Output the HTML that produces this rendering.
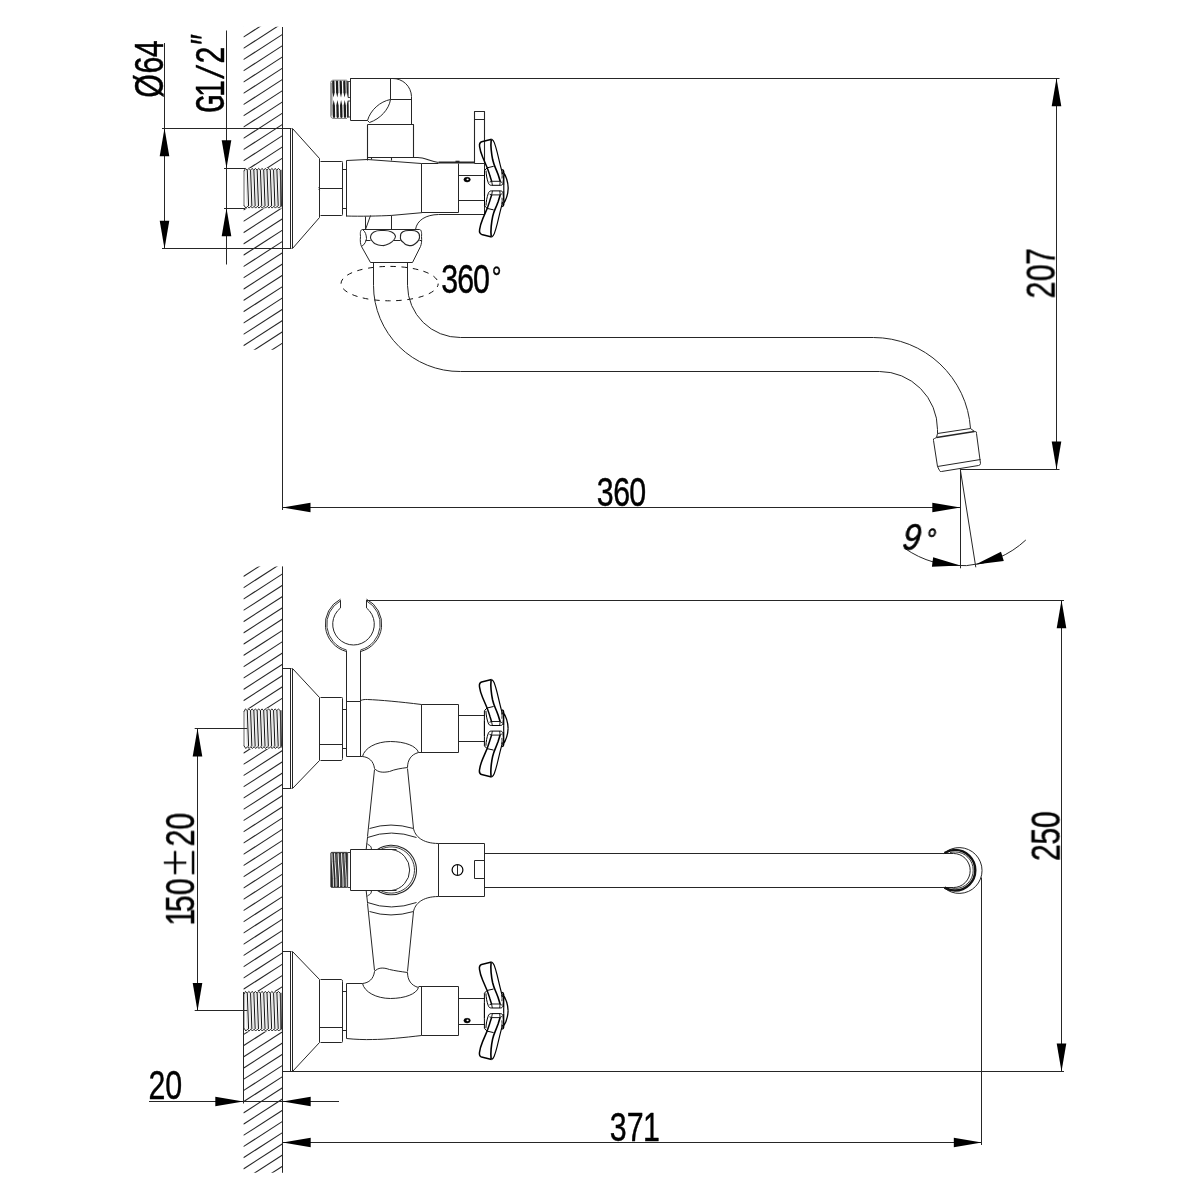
<!DOCTYPE html>
<html lang="en">
<head>
<meta charset="utf-8">
<title>Wall-mounted bath mixer – dimensional drawing</title>
<style>
html,body{margin:0;padding:0;background:#fff;}
body{width:1200px;height:1200px;overflow:hidden;font-family:"Liberation Sans",Arial,sans-serif;}
svg{display:block;}
</style>
</head>
<body>
<svg width="1200" height="1200" viewBox="0 0 1200 1200" stroke-linecap="butt" stroke-linejoin="round">
<rect width="1200" height="1200" fill="#fff"/>
<defs><g id="handle" fill="none" stroke="#000" stroke-width="1.15">
<g id="lobe"><path d="M7.3,-48.8 L-2.7,-46.3 C-4.6,-45.6 -5.2,-44 -4.8,-41.5 C-4.2,-37 -2.6,-33 -1.7,-30.8 L2.8,-20.3 C4,-17 5,-14.2 5.6,-12 L7.3,-6.6" stroke-width="1.5"/><path d="M7.3,-48.8 C8.6,-48 9.4,-46.8 9.9,-45.5 C11.2,-42 12,-39 12.8,-35.8 L15.8,-23.3 L18.2,-14"/><path d="M6.8,-48.3 C6.4,-45 6.5,-41.5 6.8,-38.3 C7.1,-35 7.6,-31.5 8.3,-28.3 C9,-25.5 9.8,-23 10.8,-20.8 C11.9,-18.3 13,-15.5 13.8,-13.3 L15.8,-6.8" stroke-width="1.6"/><path d="M2.8,-20.3 L9.3,-21.8" stroke-width="1"/><path d="M0.1,-8 L0.1,-17.6 L2.6,-20.2 M1.6,-17.5 C1.8,-13 2.6,-9 3.8,-5.6 C4.4,-3.6 5.4,-2.8 7,-2.8 L16,-2.8 C17.6,-2.8 18.4,-3.6 18.6,-5 L19.3,-12" stroke-width="1"/><path d="M7.3,-6.8 L15.8,-6.8 M5.2,-6 L7.3,-6.8 L8,-2.8 M15.8,-6.8 L17.6,-5.6 M15.8,-6.8 L15.4,-2.8" stroke-width="0.9"/><path d="M17.6,-18.4 C18.8,-18.2 19.4,-17.6 19.4,-16.4 L19.4,-3 M18.4,-17 C20.8,-13.5 23.6,-7 23.8,0" stroke-width="1.3"/><path d="M17.4,-15.8 C17.9,-13.5 17.9,-11.5 17.6,-9.6" stroke-width="0.9"/></g>
<use href="#lobe" transform="scale(1,-1)"/>
<path d="M0.1,-8 V8 M19.4,-3 V3"/>
</g></defs>
<clipPath id="h1"><rect x="243.4" y="26.8" width="39.099999999999994" height="141.39999999999998"/></clipPath>
<g clip-path="url(#h1)" stroke="#262626" stroke-width="1.08">
<line x1="243.40" y1="14.62" x2="282.50" y2="-10.60"/>
<line x1="243.40" y1="25.87" x2="282.50" y2="0.65"/>
<line x1="243.40" y1="37.12" x2="282.50" y2="11.90"/>
<line x1="243.40" y1="48.37" x2="282.50" y2="23.15"/>
<line x1="243.40" y1="59.62" x2="282.50" y2="34.40"/>
<line x1="243.40" y1="70.87" x2="282.50" y2="45.65"/>
<line x1="243.40" y1="82.12" x2="282.50" y2="56.90"/>
<line x1="243.40" y1="93.37" x2="282.50" y2="68.15"/>
<line x1="243.40" y1="104.62" x2="282.50" y2="79.40"/>
<line x1="243.40" y1="115.87" x2="282.50" y2="90.65"/>
<line x1="243.40" y1="127.12" x2="282.50" y2="101.90"/>
<line x1="243.40" y1="138.37" x2="282.50" y2="113.15"/>
<line x1="243.40" y1="149.62" x2="282.50" y2="124.40"/>
<line x1="243.40" y1="160.87" x2="282.50" y2="135.65"/>
<line x1="243.40" y1="172.12" x2="282.50" y2="146.90"/>
<line x1="243.40" y1="183.37" x2="282.50" y2="158.15"/>
<line x1="243.40" y1="194.62" x2="282.50" y2="169.40"/>
</g>
<clipPath id="h1b"><rect x="243.4" y="208.3" width="39.099999999999994" height="141.5"/></clipPath>
<g clip-path="url(#h1b)" stroke="#262626" stroke-width="1.08">
<line x1="243.40" y1="187.52" x2="282.50" y2="162.30"/>
<line x1="243.40" y1="198.82" x2="282.50" y2="173.60"/>
<line x1="243.40" y1="210.12" x2="282.50" y2="184.90"/>
<line x1="243.40" y1="221.42" x2="282.50" y2="196.20"/>
<line x1="243.40" y1="232.72" x2="282.50" y2="207.50"/>
<line x1="243.40" y1="244.02" x2="282.50" y2="218.80"/>
<line x1="243.40" y1="255.32" x2="282.50" y2="230.10"/>
<line x1="243.40" y1="266.62" x2="282.50" y2="241.40"/>
<line x1="243.40" y1="277.92" x2="282.50" y2="252.70"/>
<line x1="243.40" y1="289.22" x2="282.50" y2="264.00"/>
<line x1="243.40" y1="300.52" x2="282.50" y2="275.30"/>
<line x1="243.40" y1="311.82" x2="282.50" y2="286.60"/>
<line x1="243.40" y1="323.12" x2="282.50" y2="297.90"/>
<line x1="243.40" y1="334.42" x2="282.50" y2="309.20"/>
<line x1="243.40" y1="345.72" x2="282.50" y2="320.50"/>
<line x1="243.40" y1="357.02" x2="282.50" y2="331.80"/>
<line x1="243.40" y1="368.32" x2="282.50" y2="343.10"/>
<line x1="243.40" y1="379.62" x2="282.50" y2="354.40"/>
</g>
<line x1="282.50" y1="27.00" x2="282.50" y2="510.00" stroke="#262626" stroke-width="1.0" />
<rect x="243.40" y="168.20" width="38.60" height="40.10" fill="#fff" stroke="none"/>
<g fill="none" stroke-linejoin="round">
<path d="M245.81,169.70 L247.11,206.80 M249.10,169.70 L250.40,206.80 M252.39,169.70 L253.69,206.80 M255.68,169.70 L256.98,206.80 M258.97,169.70 L260.27,206.80 M262.26,169.70 L263.56,206.80 M265.56,169.70 L266.86,206.80 M268.85,169.70 L270.15,206.80 M272.14,169.70 L273.44,206.80 M275.43,169.70 L276.73,206.80 M278.72,169.70 L280.02,206.80" stroke="#c4c4c4" stroke-width="0.5"/>
<path d="M247.29,170.20 L248.59,206.10 M250.58,170.20 L251.88,206.10 M253.87,170.20 L255.17,206.10 M257.16,170.20 L258.46,206.10 M260.45,170.20 L261.75,206.10 M263.75,170.20 L265.05,206.10 M267.04,170.20 L268.34,206.10 M270.33,170.20 L271.63,206.10 M273.62,170.20 L274.92,206.10 M276.91,170.20 L278.21,206.10 M280.20,170.20 L281.50,206.10" stroke="#111" stroke-width="1.0"/>
<polyline points="244.00,171.20 245.48,168.40 247.29,170.20 248.77,168.40 250.58,170.20 252.06,168.40 253.87,170.20 255.35,168.40 257.16,170.20 258.64,168.40 260.45,170.20 261.94,168.40 263.75,170.20 265.23,168.40 267.04,170.20 268.52,168.40 270.33,170.20 271.81,168.40 273.62,170.20 275.10,168.40 276.91,170.20 278.39,168.40 280.20,170.20" stroke="#111" stroke-width="0.9"/>
<polyline points="244.00,205.30 245.81,208.10 247.59,206.30 249.10,208.10 250.88,206.30 252.39,208.10 254.17,206.30 255.68,208.10 257.46,206.30 258.97,208.10 260.75,206.30 262.26,208.10 264.05,206.30 265.56,208.10 267.34,206.30 268.85,208.10 270.63,206.30 272.14,208.10 273.92,206.30 275.43,208.10 277.21,206.30 278.72,208.10 280.50,206.30" stroke="#111" stroke-width="0.9"/>
<path d="M244.00,170.70 V205.80" stroke="#555" stroke-width="0.9"/>
<path d="M280.90,169.70 V207.30" stroke="#444" stroke-width="1.4"/>
</g>
<path d="M 282.5,128.5 H 291.5 M 282.5,248.5 H 291.5 M 290.5,128.5 V 248.5 M 292.5,128.5 V 248.5 M 292.5,128.5 L 319.5,158.5 V 217.5 L 292.5,248.5" stroke="#262626" stroke-width="1.0" fill="none" />
<path d="M 320.5,161.5 H 341.5 Q 342.5,161,342.5,162.5 V 214.5 Q 342.5,215.6,341.5,215.5 H 320.5 M 319.5,188.5 H 342.5" stroke="#262626" stroke-width="1.0" fill="none" />
<path d="M 319.5,186.5 q -1.2,0.9,0,1.8 q -1.2,0.9,0,1.8" stroke="#262626" stroke-width="0.9" fill="none" />
<path d="M 342.5,169.5 H 346.5 M 342.5,208.5 H 346.5" stroke="#262626" stroke-width="1" fill="none" />
<g stroke="none" fill="#1c1c1c">
<path d="M332.15,81.60 Q333.30,79.40 334.45,81.60 L334.70,92.2 L333.60,97.6 L332.40,92.2 Z"/>
<path d="M332.85,116.90 Q334.00,119.10 335.15,116.90 L334.90,105.6 L333.70,99.9 L332.60,105.6 Z"/>
<path d="M335.85,81.60 Q337.00,79.40 338.15,81.60 L338.40,92.2 L337.30,97.6 L336.10,92.2 Z"/>
<path d="M336.55,116.90 Q337.70,119.10 338.85,116.90 L338.60,105.6 L337.40,99.9 L336.30,105.6 Z"/>
<path d="M339.55,81.60 Q340.70,79.40 341.85,81.60 L342.10,92.2 L341.00,97.6 L339.80,92.2 Z"/>
<path d="M340.25,116.90 Q341.40,119.10 342.55,116.90 L342.30,105.6 L341.10,99.9 L340.00,105.6 Z"/>
<path d="M343.15,81.60 Q344.30,79.40 345.45,81.60 L345.70,92.2 L344.60,97.6 L343.40,92.2 Z"/>
<path d="M343.85,116.90 Q345.00,119.10 346.15,116.90 L345.90,105.6 L344.70,99.9 L343.60,105.6 Z"/>
<path d="M346.40,81.60 Q347.10,79.40 347.80,81.60 L348.05,92.2 L347.40,97.6 L346.65,92.2 Z"/>
<path d="M347.10,116.90 Q347.80,119.10 348.50,116.90 L348.25,105.6 L347.50,99.9 L346.85,105.6 Z"/>
</g>
<path d="M330.8,82.5 Q330.9,80.6 332.6,80.3 M330.8,82.5 V116 Q330.9,118 332.8,118.3 M331.9,83 V115.6" fill="none" stroke="#555" stroke-width="0.8"/>
<path d="M332.6,80.2 H346.8 M332.8,118.4 H347" fill="none" stroke="#444" stroke-width="0.7"/>
<path d="M348,81.5 H350.5 M348,97.5 H350.5 M348,101 H350.5 M348,117 H350.5 M348.2,81.5 V97.5 M348.2,101 V117" fill="none" stroke="#333" stroke-width="0.9"/>
<path d="M 350.5,78.5 V 120.5 H 367.5 L 369.5,122.5 M 350.5,78.5 H 392.5 A 18.6,18.6,0,0,1,411.5,96.5 V 124.5 M 390.5,78.5 V 99.5 H 411.5" stroke="#262626" stroke-width="1.0" fill="none" />
<path d="M 390.5,99.5 C 380,101.5,370.5,110,367.5,120.5 M 390.5,99.5 C 389,109.5,380,119,369.5,122.5" stroke="#262626" stroke-width="1.0" fill="none" />
<path d="M 367.5,124.5 H 413.5 V 157.5 M 367.5,124.5 V 160.5 M 367.5,157.5 H 417.5 C 425,157.4,430,161.7,438.5,162.5 M 371.5,157.5 V 159.5 M 391.5,157.5 V 160.5" stroke="#262626" stroke-width="1.1" fill="none" />
<path d="M 346.5,160.5 V 216.5 M 346.5,160.5 L 367.5,159.5 L 421.5,163.5 L 438.5,163.5 M 421.5,163.5 V 212.5 H 458.5 V 163.5 M 438.5,214.5 H 484.5 V 163.5" stroke="#262626" stroke-width="1.0" fill="none" />
<path d="M346.4,216 C360,216.5 380,216 391.7,215.4 L421.9,212.7" stroke="#262626" stroke-width="1.0" fill="none" />
<path d="M 438.5,162.5 H 474.5" stroke="#262626" stroke-width="1.9" fill="none" />
<path d="M 455.5,161.5 h 4" stroke="#262626" stroke-width="1.6" fill="none" />
<path d="M 458.5,175.5 H 484.5 M 458.5,200.5 H 484.5" stroke="#262626" stroke-width="1.1" fill="none" />
<path d="M 474.5,163.5 V 111.5 H 484.5 V 163.5 M 474.5,119.5 H 484.5 M 474.5,163.5 H 484.5" stroke="#262626" stroke-width="1.1" fill="none" />
<ellipse cx="467.1" cy="179.6" rx="3.2" ry="2.3" fill="#000" stroke="#000" stroke-width="0.6"/>
<ellipse cx="467.6" cy="179.4" rx="1.1" ry="0.8" fill="#fff"/>
<use href="#handle" x="484.4" y="188.1"/>
<path d="M 365.5,216.5 V 229.5 M 370.5,215.5 L 365.5,229.5 M 391.5,215.5 V 229.5 M 438.5,214.5 C 426,214.8,417,220,415.5,229.5" stroke="#262626" stroke-width="1.0" fill="none" />
<path d="M 362.5,229.5 H 419.5 C 421.2,229.6,421.9,232,421.5,236.5 C 421.9,241,421.5,244,420.5,246.5 L 412.5,262.5 H 370.5 L 361.5,246.5 C 360.4,244,360,241,360.5,236.5 C 360,232,360.6,229.6,362.5,229.5 Z" stroke="#262626" stroke-width="1.0" fill="none" />
<path d="M 362.5,229.5 C 365.5,231.5,366.3,235,366.5,238.5 C 366.1,241,365,244.5,361.5,246.5" stroke="#262626" stroke-width="1" fill="none" />
<path d="M 365.5,240.5 H 370.5 M 393.5,240.5 H 400.5 M 419.5,240.5 H 421.5" stroke="#262626" stroke-width="1" fill="none" />
<path d="M 370.5,237.5 C 370.6,232.5,375.5,230,382.5,230.5 C 390,230,395,232.8,395.5,236.5 C 395,239.5,392.5,241.7,389.5,243.5 C 386.5,245,384,245.9,382.5,245.5 C 379.5,245.9,377,244.8,374.5,243.5 C 372,241.2,370.6,239.5,370.5,237.5 Z" stroke="#262626" stroke-width="1.1" fill="none" />
<path d="M 400.5,236.5 C 400,232.5,404,230,410.5,230.5 C 416,230,419.8,232.5,419.5,236.5 C 419.8,239,418,241.5,415.5,243.5 C 413.6,245,411.8,245.9,410.5,245.5 C 407.5,245.9,405,244.6,403.5,242.5 C 401,241,400,239,400.5,236.5 Z" stroke="#262626" stroke-width="1.1" fill="none" />
<ellipse cx="389.6" cy="283.6" rx="48.6" ry="17.2" fill="none" stroke="#111" stroke-width="1" stroke-dasharray="5.5 5.6" stroke-dashoffset="2"/>
<path d="M 373.5,262.5 V 285.5 A 86.2,86.2,0,0,0,460.5,371.5 H 879.5 A 58,58,0,0,1,937.5,429.5 L 937.5,433.5" stroke="#262626" stroke-width="1.0" fill="none" />
<path d="M 407.5,262.5 V 285.5 A 52.5,52.5,0,0,0,460.5,337.5 H 873.5 A 97.5,97.5,0,0,1,970.5,428.5" stroke="#262626" stroke-width="1.0" fill="none" />
<path d="M 937.5,433.5 L 970.5,428.5" stroke="#262626" stroke-width="1" fill="none" />
<path d="M 936.5,437.5 L 974.5,431.5" stroke="#262626" stroke-width="1.7" fill="none" />
<path d="M 937.5,433.5 L 936.5,437.5 M 970.5,428.5 L 974.5,431.5" stroke="#262626" stroke-width="1" fill="none" />
<path d="M 936.5,437.5 L 934.5,438.5 Q 933,438.4,933.5,440.5 L 937.5,466.5 L 939.5,470.5 Q 939.9,471.9,941.5,471.5 L 978.5,465.5 Q 980.6,465,980.5,463.5 L 976.5,433.5 Q 976.5,431.2,975.5,431.5 L 974.5,431.5" stroke="#262626" stroke-width="1.0" fill="none" />
<path d="M 937.5,466.5 L 980.5,459.5" stroke="#262626" stroke-width="1" fill="none" />
<line x1="164.50" y1="43.00" x2="164.50" y2="248.75" stroke="#262626" stroke-width="1.0" />
<line x1="162.00" y1="128.50" x2="283.00" y2="128.50" stroke="#262626" stroke-width="1.0" />
<line x1="162.00" y1="248.50" x2="283.00" y2="248.50" stroke="#262626" stroke-width="1.0" />
<polygon points="164.50,128.25 169.30,156.25 159.70,156.25" fill="#000"/>
<polygon points="164.50,248.75 159.70,220.75 169.30,220.75" fill="#000"/>
<line x1="226.50" y1="30.50" x2="226.50" y2="264.50" stroke="#262626" stroke-width="1.0" />
<line x1="224.00" y1="168.50" x2="245.00" y2="168.50" stroke="#262626" stroke-width="1.0" />
<line x1="224.00" y1="208.50" x2="245.00" y2="208.50" stroke="#262626" stroke-width="1.0" />
<polygon points="226.50,168.30 221.70,140.30 231.30,140.30" fill="#000"/>
<polygon points="226.50,208.20 231.30,236.20 221.70,236.20" fill="#000"/>
<line x1="350.30" y1="78.50" x2="1059.50" y2="78.50" stroke="#262626" stroke-width="1.0" />
<line x1="1056.50" y1="78.20" x2="1056.50" y2="469.40" stroke="#262626" stroke-width="1.0" />
<polygon points="1056.50,78.20 1061.30,106.20 1051.70,106.20" fill="#000"/>
<polygon points="1056.50,469.40 1051.70,441.40 1061.30,441.40" fill="#000"/>
<line x1="960.30" y1="469.50" x2="1059.50" y2="469.50" stroke="#262626" stroke-width="1.0" />
<line x1="282.50" y1="507.50" x2="960.30" y2="507.50" stroke="#262626" stroke-width="1.0" />
<polygon points="282.50,507.50 310.50,502.70 310.50,512.30" fill="#000"/>
<polygon points="960.30,507.50 932.30,512.30 932.30,502.70" fill="#000"/>
<line x1="960.50" y1="469.40" x2="960.50" y2="568.30" stroke="#262626" stroke-width="1.0" />
<line x1="960.30" y1="469.40" x2="975.80" y2="567.30" stroke="#262626" stroke-width="1.0" />
<path d="M904.3,548 A96.4,96.4 0 0 0 1025.8,540" stroke="#262626" stroke-width="1.0" fill="none" />
<polygon points="960.30,565.60 931.92,566.80 933.14,557.28" fill="#000"/>
<polygon points="975.60,564.60 1001.00,551.87 1003.79,561.05" fill="#000"/>
<clipPath id="h2"><rect x="243.4" y="566.4" width="39.099999999999994" height="142.30000000000007"/></clipPath>
<g clip-path="url(#h2)" stroke="#262626" stroke-width="1.08">
<line x1="243.40" y1="553.96" x2="282.50" y2="528.74"/>
<line x1="243.40" y1="565.25" x2="282.50" y2="540.03"/>
<line x1="243.40" y1="576.54" x2="282.50" y2="551.32"/>
<line x1="243.40" y1="587.83" x2="282.50" y2="562.61"/>
<line x1="243.40" y1="599.12" x2="282.50" y2="573.90"/>
<line x1="243.40" y1="610.41" x2="282.50" y2="585.19"/>
<line x1="243.40" y1="621.70" x2="282.50" y2="596.48"/>
<line x1="243.40" y1="632.99" x2="282.50" y2="607.77"/>
<line x1="243.40" y1="644.28" x2="282.50" y2="619.06"/>
<line x1="243.40" y1="655.57" x2="282.50" y2="630.35"/>
<line x1="243.40" y1="666.86" x2="282.50" y2="641.64"/>
<line x1="243.40" y1="678.15" x2="282.50" y2="652.93"/>
<line x1="243.40" y1="689.44" x2="282.50" y2="664.22"/>
<line x1="243.40" y1="700.73" x2="282.50" y2="675.51"/>
<line x1="243.40" y1="712.02" x2="282.50" y2="686.80"/>
<line x1="243.40" y1="723.31" x2="282.50" y2="698.09"/>
<line x1="243.40" y1="734.60" x2="282.50" y2="709.38"/>
</g>
<clipPath id="h2b"><rect x="243.4" y="748.7" width="39.099999999999994" height="242.5"/></clipPath>
<g clip-path="url(#h2b)" stroke="#262626" stroke-width="1.08">
<line x1="243.40" y1="730.69" x2="282.50" y2="705.47"/>
<line x1="243.40" y1="741.93" x2="282.50" y2="716.72"/>
<line x1="243.40" y1="753.18" x2="282.50" y2="727.96"/>
<line x1="243.40" y1="764.42" x2="282.50" y2="739.21"/>
<line x1="243.40" y1="775.67" x2="282.50" y2="750.45"/>
<line x1="243.40" y1="786.91" x2="282.50" y2="761.70"/>
<line x1="243.40" y1="798.16" x2="282.50" y2="772.94"/>
<line x1="243.40" y1="809.40" x2="282.50" y2="784.19"/>
<line x1="243.40" y1="820.65" x2="282.50" y2="795.43"/>
<line x1="243.40" y1="831.89" x2="282.50" y2="806.68"/>
<line x1="243.40" y1="843.14" x2="282.50" y2="817.92"/>
<line x1="243.40" y1="854.38" x2="282.50" y2="829.17"/>
<line x1="243.40" y1="865.63" x2="282.50" y2="840.41"/>
<line x1="243.40" y1="876.87" x2="282.50" y2="851.66"/>
<line x1="243.40" y1="888.12" x2="282.50" y2="862.90"/>
<line x1="243.40" y1="899.36" x2="282.50" y2="874.15"/>
<line x1="243.40" y1="910.61" x2="282.50" y2="885.39"/>
<line x1="243.40" y1="921.85" x2="282.50" y2="896.64"/>
<line x1="243.40" y1="933.10" x2="282.50" y2="907.88"/>
<line x1="243.40" y1="944.34" x2="282.50" y2="919.13"/>
<line x1="243.40" y1="955.59" x2="282.50" y2="930.37"/>
<line x1="243.40" y1="966.83" x2="282.50" y2="941.62"/>
<line x1="243.40" y1="978.08" x2="282.50" y2="952.86"/>
<line x1="243.40" y1="989.32" x2="282.50" y2="964.11"/>
<line x1="243.40" y1="1000.57" x2="282.50" y2="975.35"/>
<line x1="243.40" y1="1011.81" x2="282.50" y2="986.60"/>
<line x1="243.40" y1="1023.06" x2="282.50" y2="997.84"/>
</g>
<clipPath id="h2c"><rect x="243.4" y="1031.2" width="39.099999999999994" height="141.5999999999999"/></clipPath>
<g clip-path="url(#h2c)" stroke="#262626" stroke-width="1.08">
<line x1="243.40" y1="1012.22" x2="282.50" y2="987.00"/>
<line x1="243.40" y1="1023.42" x2="282.50" y2="998.20"/>
<line x1="243.40" y1="1034.62" x2="282.50" y2="1009.40"/>
<line x1="243.40" y1="1045.82" x2="282.50" y2="1020.60"/>
<line x1="243.40" y1="1057.02" x2="282.50" y2="1031.80"/>
<line x1="243.40" y1="1068.22" x2="282.50" y2="1043.00"/>
<line x1="243.40" y1="1079.42" x2="282.50" y2="1054.20"/>
<line x1="243.40" y1="1090.62" x2="282.50" y2="1065.40"/>
<line x1="243.40" y1="1101.82" x2="282.50" y2="1076.60"/>
<line x1="243.40" y1="1113.02" x2="282.50" y2="1087.80"/>
<line x1="243.40" y1="1124.22" x2="282.50" y2="1099.00"/>
<line x1="243.40" y1="1135.42" x2="282.50" y2="1110.20"/>
<line x1="243.40" y1="1146.62" x2="282.50" y2="1121.40"/>
<line x1="243.40" y1="1157.82" x2="282.50" y2="1132.60"/>
<line x1="243.40" y1="1169.02" x2="282.50" y2="1143.80"/>
<line x1="243.40" y1="1180.22" x2="282.50" y2="1155.00"/>
<line x1="243.40" y1="1191.42" x2="282.50" y2="1166.20"/>
<line x1="243.40" y1="1202.62" x2="282.50" y2="1177.40"/>
</g>
<line x1="282.50" y1="566.40" x2="282.50" y2="1172.80" stroke="#262626" stroke-width="1.0" />
<rect x="243.40" y="708.70" width="38.60" height="40.00" fill="#fff" stroke="none"/>
<g fill="none" stroke-linejoin="round">
<path d="M245.81,710.20 L247.11,747.20 M249.10,710.20 L250.40,747.20 M252.39,710.20 L253.69,747.20 M255.68,710.20 L256.98,747.20 M258.97,710.20 L260.27,747.20 M262.26,710.20 L263.56,747.20 M265.56,710.20 L266.86,747.20 M268.85,710.20 L270.15,747.20 M272.14,710.20 L273.44,747.20 M275.43,710.20 L276.73,747.20 M278.72,710.20 L280.02,747.20" stroke="#c4c4c4" stroke-width="0.5"/>
<path d="M247.29,710.70 L248.59,746.50 M250.58,710.70 L251.88,746.50 M253.87,710.70 L255.17,746.50 M257.16,710.70 L258.46,746.50 M260.45,710.70 L261.75,746.50 M263.75,710.70 L265.05,746.50 M267.04,710.70 L268.34,746.50 M270.33,710.70 L271.63,746.50 M273.62,710.70 L274.92,746.50 M276.91,710.70 L278.21,746.50 M280.20,710.70 L281.50,746.50" stroke="#111" stroke-width="1.0"/>
<polyline points="244.00,711.70 245.48,708.90 247.29,710.70 248.77,708.90 250.58,710.70 252.06,708.90 253.87,710.70 255.35,708.90 257.16,710.70 258.64,708.90 260.45,710.70 261.94,708.90 263.75,710.70 265.23,708.90 267.04,710.70 268.52,708.90 270.33,710.70 271.81,708.90 273.62,710.70 275.10,708.90 276.91,710.70 278.39,708.90 280.20,710.70" stroke="#111" stroke-width="0.9"/>
<polyline points="244.00,745.70 245.81,748.50 247.59,746.70 249.10,748.50 250.88,746.70 252.39,748.50 254.17,746.70 255.68,748.50 257.46,746.70 258.97,748.50 260.75,746.70 262.26,748.50 264.05,746.70 265.56,748.50 267.34,746.70 268.85,748.50 270.63,746.70 272.14,748.50 273.92,746.70 275.43,748.50 277.21,746.70 278.72,748.50 280.50,746.70" stroke="#111" stroke-width="0.9"/>
<path d="M244.00,711.20 V746.20" stroke="#555" stroke-width="0.9"/>
<path d="M280.90,710.20 V747.70" stroke="#444" stroke-width="1.4"/>
</g>
<rect x="243.40" y="991.20" width="38.60" height="40.00" fill="#fff" stroke="none"/>
<g fill="none" stroke-linejoin="round">
<path d="M245.81,992.70 L247.11,1029.70 M249.10,992.70 L250.40,1029.70 M252.39,992.70 L253.69,1029.70 M255.68,992.70 L256.98,1029.70 M258.97,992.70 L260.27,1029.70 M262.26,992.70 L263.56,1029.70 M265.56,992.70 L266.86,1029.70 M268.85,992.70 L270.15,1029.70 M272.14,992.70 L273.44,1029.70 M275.43,992.70 L276.73,1029.70 M278.72,992.70 L280.02,1029.70" stroke="#c4c4c4" stroke-width="0.5"/>
<path d="M247.29,993.20 L248.59,1029.00 M250.58,993.20 L251.88,1029.00 M253.87,993.20 L255.17,1029.00 M257.16,993.20 L258.46,1029.00 M260.45,993.20 L261.75,1029.00 M263.75,993.20 L265.05,1029.00 M267.04,993.20 L268.34,1029.00 M270.33,993.20 L271.63,1029.00 M273.62,993.20 L274.92,1029.00 M276.91,993.20 L278.21,1029.00 M280.20,993.20 L281.50,1029.00" stroke="#111" stroke-width="1.0"/>
<polyline points="244.00,994.20 245.48,991.40 247.29,993.20 248.77,991.40 250.58,993.20 252.06,991.40 253.87,993.20 255.35,991.40 257.16,993.20 258.64,991.40 260.45,993.20 261.94,991.40 263.75,993.20 265.23,991.40 267.04,993.20 268.52,991.40 270.33,993.20 271.81,991.40 273.62,993.20 275.10,991.40 276.91,993.20 278.39,991.40 280.20,993.20" stroke="#111" stroke-width="0.9"/>
<polyline points="244.00,1028.20 245.81,1031.00 247.59,1029.20 249.10,1031.00 250.88,1029.20 252.39,1031.00 254.17,1029.20 255.68,1031.00 257.46,1029.20 258.97,1031.00 260.75,1029.20 262.26,1031.00 264.05,1029.20 265.56,1031.00 267.34,1029.20 268.85,1031.00 270.63,1029.20 272.14,1031.00 273.92,1029.20 275.43,1031.00 277.21,1029.20 278.72,1031.00 280.50,1029.20" stroke="#111" stroke-width="0.9"/>
<path d="M244.00,993.70 V1028.70" stroke="#555" stroke-width="0.9"/>
<path d="M280.90,992.70 V1030.20" stroke="#444" stroke-width="1.4"/>
</g>
<path d="M 282.5,668.5 H 291.5 M 282.5,788.5 H 291.5 M 290.5,668.5 V 788.5 M 292.5,668.5 V 788.5" stroke="#262626" stroke-width="1.0" fill="none" />
<path d="M 292.5,668.5 L 319.5,697.5 V 760.5 L 292.5,788.5" stroke="#262626" stroke-width="1.0" fill="none" />
<path d="M 320.5,697.5 H 341.5 Q 342.5,697.2,342.5,698.5 V 758.5 Q 342.5,760,341.5,760.5 H 320.5 M 319.5,744.5 H 342.5" stroke="#262626" stroke-width="1.0" fill="none" />
<path d="M 342.5,709.5 H 346.5 M 342.5,748.5 H 346.5" stroke="#262626" stroke-width="1" fill="none" />
<path d="M 346.5,756.5 V 650.5 M 360.5,650.5 V 756.5 M 346.5,701.5 H 360.5" stroke="#262626" stroke-width="1.0" fill="none" />
<path d="M340.50,599.18 A28.2,28.2 0 0 0 346.50,651.52 M366.50,599.18 A28.2,28.2 0 0 1 360.50,651.52" stroke="#262626" stroke-width="1.0" fill="none" />
<path d="M340.50,600.88 A26.7,26.7 0 0 0 346.50,649.97 M366.50,600.88 A26.7,26.7 0 0 1 360.50,649.97" stroke="#262626" stroke-width="0.9" fill="none" />
<path d="M340.5,607.96 A20.8,20.8 0 1 0 366.5,607.96 M340.5,600.2 V607.96 M366.5,600.2 V607.96" stroke="#262626" stroke-width="1.0" fill="none" />
<path d="M 360.5,700.5 C 363,699.5,365,699.4,367.5,699.5 C 380,700,400,701.8,421.5,704.5 M 421.5,704.5 V 752.5 M 421.5,704.5 H 458.5 V 752.5 H 418.5 M 346.5,756.5 H 362.5" stroke="#262626" stroke-width="1.0" fill="none" />
<path d="M 458.5,715.5 H 484.5 M 458.5,741.5 H 484.5" stroke="#262626" stroke-width="1.1" fill="none" />
<use href="#handle" x="484.3" y="728.3"/>
<path d="M 362.5,756.5 C 364.5,748,376,741.6,390.5,741.5 C 405,741.6,416.5,746,418.5,752.5" stroke="#262626" stroke-width="1.0" fill="none" />
<path d="M 362.5,756.5 C 369,757.2,373.5,761,374.5,768.5 M 418.5,752.5 C 411,754.5,407.6,760,407.5,767.5" stroke="#262626" stroke-width="1.0" fill="none" />
<path d="M 374.5,768.5 C 378,772.5,383,772.8,389.5,771.5 C 395,769.2,401,768.4,407.5,767.5" stroke="#262626" stroke-width="1.0" fill="none" />
<path d="M 374.5,769.5 L 367.5,836.5 M 407.5,768.5 L 413.5,828.5" stroke="#262626" stroke-width="1.0" fill="none" />
<path d="M 369.5,828.5 Q 390.5,821.6,413.5,828.5" stroke="#262626" stroke-width="1.0" fill="none" />
<path d="M367.60,836.70 L366.20,849.20" stroke="#262626" stroke-width="1.0" fill="none" />
<path d="M 367.5,837.5 Q 391,828.6,416.5,837.5" stroke="#262626" stroke-width="1.0" fill="none" />
<path d="M 413.5,828.5 C 415,836,422,843.4,438.5,843.5" stroke="#262626" stroke-width="1.0" fill="none" />
<path d="M367.00,843.60 C368.40,845.40 371.40,845.00 371.40,849.20" stroke="#262626" stroke-width="1" fill="none" />
<path d="M 362.5,983.5 C 364.5,992,376,998.4,390.5,998.5 C 405,998.4,416.5,994,418.5,987.5" stroke="#262626" stroke-width="1.0" fill="none" />
<path d="M 362.5,983.5 C 369,982.8,373.5,979,374.5,971.5 M 418.5,987.5 C 411,985.5,407.6,980,407.5,972.5" stroke="#262626" stroke-width="1.0" fill="none" />
<path d="M 374.5,971.5 C 378,967.5,383,967.2,389.5,969.5 C 395,970.8,401,971.6,407.5,972.5" stroke="#262626" stroke-width="1.0" fill="none" />
<path d="M 374.5,970.5 L 367.5,903.5 M 407.5,971.5 L 413.5,911.5" stroke="#262626" stroke-width="1.0" fill="none" />
<path d="M 369.5,911.5 Q 390.5,918.4,413.5,911.5" stroke="#262626" stroke-width="1.0" fill="none" />
<path d="M367.60,903.30 L366.20,890.80" stroke="#262626" stroke-width="1.0" fill="none" />
<path d="M 367.5,902.5 Q 391,911.4,416.5,902.5" stroke="#262626" stroke-width="1.0" fill="none" />
<path d="M 413.5,911.5 C 415,904,422,896.6,438.5,896.5" stroke="#262626" stroke-width="1.0" fill="none" />
<path d="M367.00,896.40 C368.40,894.60 371.40,895.00 371.40,890.80" stroke="#262626" stroke-width="1" fill="none" />
<rect x="330.7" y="852.3" width="17" height="35.2" rx="1.2" fill="#2a2a2a" stroke="#2a2a2a" stroke-width="0.6"/>
<g stroke="#fff" fill="none" stroke-linecap="round">
<path d="M331.90,853.6 Q332.10,862 332.80,870 T333.40,886.4" stroke-width="0.9"/>
<path d="M334.60,853.6 Q334.80,862 335.50,870 T336.10,886.4" stroke-width="1.0"/>
<path d="M338.10,853.6 Q338.30,862 339.00,870 T339.60,886.4" stroke-width="1.05"/>
<path d="M341.60,853.6 Q341.80,862 342.50,870 T343.10,886.4" stroke-width="1.05"/>
<path d="M344.80,853.6 Q345.00,862 345.70,870 T346.30,886.4" stroke-width="0.9"/>
</g>
<g stroke="#8a8a8a" fill="none">
<path d="M336.40,854 L337.60,886" stroke-width="0.5"/>
<path d="M339.90,854 L341.10,886" stroke-width="0.5"/>
<path d="M343.30,854 L344.50,886" stroke-width="0.5"/>
</g>
<path d="M 347.5,852.5 H 350.5 M 347.5,887.5 H 350.5" stroke="#262626" stroke-width="0.9" fill="none" />
<path d="M 396.5,849.5 H 350.5 V 890.5 H 396.5 M 391.5,849.5 A 20.65,20.65,0,0,1,391.5,890.5" stroke="#262626" stroke-width="1.0" fill="none" />
<path d="M 380.5,849.5 A 23.3,23.3,0,0,1,414.5,870.5 A 23.3,23.3,0,0,1,380.5,890.5" stroke="#262626" stroke-width="0.9" fill="none" />
<path d="M 377.5,849.5 A 25,25,0,0,1,416.5,870.5 A 25,25,0,0,1,377.5,890.5" stroke="#262626" stroke-width="1.1" fill="none" />
<path d="M 438.5,843.5 H 484.5 V 896.5 H 438.5 Z M 474.5,860.5 H 484.5 M 474.5,878.5 H 484.5 M 474.5,860.5 V 878.5" stroke="#262626" stroke-width="1.0" fill="none" />
<circle cx="457.5" cy="870" r="5.4" fill="none" stroke="#000" stroke-width="1.2"/>
<line x1="457.50" y1="864.60" x2="457.50" y2="875.40" stroke="#262626" stroke-width="1" />
<path d="M 484.5,853.5 H 953.5 M 484.5,887.5 H 953.5" stroke="#262626" stroke-width="1.0" fill="none" />
<g fill="none" stroke="#262626">
<path d="M943.8,853.5 A22.9,22.9 0 1 1 943.8,887.5" stroke-width="1"/>
<path d="M944.5,853 Q950,849.9 955,849.9 A20.3,20.3 0 0 1 955,890.5 Q950,890.5 944.5,887.6" stroke-width="2.4" stroke="#111"/>
<path d="M953.5,853.5 A16.6,16.9 0 0 1 953.5,887.5" stroke-width="1"/>
<path d="M950,852.6 Q953,852 955.6,852 A17.6,18.2 0 0 1 955.6,888.4 Q953,888.4 950,887.8" stroke-width="0.9"/>
</g>
<path d="M 282.5,951.5 H 291.5 M 282.5,1071.5 H 291.5 M 290.5,951.5 V 1071.5 M 292.5,951.5 V 1071.5" stroke="#262626" stroke-width="1.0" fill="none" />
<path d="M 292.5,951.5 L 319.5,979.5 V 1042.5 L 292.5,1071.5" stroke="#262626" stroke-width="1.0" fill="none" />
<path d="M 320.5,979.5 H 341.5 Q 342.5,979.7,342.5,981.5 V 1041.5 Q 342.5,1042.5,341.5,1042.5 H 320.5 M 319.5,1027.5 H 342.5" stroke="#262626" stroke-width="1.0" fill="none" />
<path d="M 342.5,991.5 H 346.5 M 342.5,1030.5 H 346.5" stroke="#262626" stroke-width="1" fill="none" />
<path d="M 346.5,983.5 V 1038.5 C 355,1039.4,365,1039.8,372.5,1039.5 C 385,1039.5,405,1037.5,421.5,1035.5 M 346.5,983.5 L 362.5,983.5 M 418.5,986.5 H 458.5 V 1035.5 H 421.5 V 986.5" stroke="#262626" stroke-width="1.0" fill="none" />
<path d="M 458.5,998.5 H 484.5 M 458.5,1024.5 H 484.5" stroke="#262626" stroke-width="1.1" fill="none" />
<ellipse cx="467.1" cy="1020.6" rx="3.2" ry="2.3" fill="#000" stroke="#000" stroke-width="0.6"/>
<ellipse cx="467.6" cy="1020.4" rx="1.1" ry="0.8" fill="#fff"/>
<use href="#handle" x="484.3" y="1010.8"/>
<line x1="366.30" y1="600.50" x2="1064.00" y2="600.50" stroke="#262626" stroke-width="1.0" />
<line x1="283.00" y1="1071.50" x2="1064.00" y2="1071.50" stroke="#262626" stroke-width="1.0" />
<line x1="1061.50" y1="600.30" x2="1061.50" y2="1071.60" stroke="#262626" stroke-width="1.0" />
<polygon points="1061.50,600.30 1066.30,628.30 1056.70,628.30" fill="#000"/>
<polygon points="1061.50,1071.60 1056.70,1043.60 1066.30,1043.60" fill="#000"/>
<line x1="197.50" y1="728.40" x2="197.50" y2="1010.90" stroke="#262626" stroke-width="1.0" />
<line x1="194.70" y1="728.50" x2="247.30" y2="728.50" stroke="#262626" stroke-width="1.0" />
<line x1="194.70" y1="1010.50" x2="247.30" y2="1010.50" stroke="#262626" stroke-width="1.0" />
<polygon points="197.50,728.40 202.30,756.40 192.70,756.40" fill="#000"/>
<polygon points="197.50,1010.90 192.70,982.90 202.30,982.90" fill="#000"/>
<line x1="149.00" y1="1101.50" x2="339.00" y2="1101.50" stroke="#262626" stroke-width="1.0" />
<polygon points="243.30,1101.50 215.30,1106.30 215.30,1096.70" fill="#000"/>
<polygon points="282.70,1101.50 310.70,1096.70 310.70,1106.30" fill="#000"/>
<line x1="243.50" y1="992.00" x2="243.50" y2="1103.50" stroke="#262626" stroke-width="1.0" />
<line x1="282.50" y1="1142.50" x2="981.80" y2="1142.50" stroke="#262626" stroke-width="1.0" />
<polygon points="282.70,1142.50 310.70,1137.70 310.70,1147.30" fill="#000"/>
<polygon points="981.80,1142.50 953.80,1147.30 953.80,1137.70" fill="#000"/>
<line x1="981.50" y1="877.50" x2="981.50" y2="1145.00" stroke="#262626" stroke-width="1.0" />
<g id="labels" style="opacity:0.999">
<text aria-label="360" transform="translate(0,505.80) scale(0.76,1)" x="785.06 806.92 828.04" font-family="'Liberation Sans', Arial, sans-serif" font-size="40.0" fill="#000" stroke="#000" stroke-width="0.45">360</text>
<text aria-label="371" transform="translate(0,1140.60) scale(0.76,1)" x="802.42 824.79 846.03" font-family="'Liberation Sans', Arial, sans-serif" font-size="40.0" fill="#000" stroke="#000" stroke-width="0.45">371</text>
<text aria-label="20" transform="translate(0,1099.20) scale(0.76,1)" x="195.36 217.38" font-family="'Liberation Sans', Arial, sans-serif" font-size="40.0" fill="#000" stroke="#000" stroke-width="0.45">20</text>
<text aria-label="207" transform="translate(1054.60,0) rotate(-90) scale(0.76,1)" x="-392.8 -369.98 -348.76" font-family="'Liberation Sans', Arial, sans-serif" font-size="40.0" fill="#000" stroke="#000" stroke-width="0.45">207</text>
<text aria-label="250" transform="translate(1059.60,0) rotate(-90) scale(0.76,1)" x="-1132.93 -1111.47 -1089.72" font-family="'Liberation Sans', Arial, sans-serif" font-size="40.0" fill="#000" stroke="#000" stroke-width="0.45">250</text>
<text aria-label="Ø64" transform="translate(162.50,0) rotate(-90) scale(0.76,1)" x="-128.49 -96.77 -75.26" font-family="'Liberation Sans', Arial, sans-serif" font-size="40.0" fill="#000" stroke="#000" stroke-width="0.45">Ø64</text>
<text aria-label="G1/2″" transform="translate(223.60,0) rotate(-90) scale(0.76,1)" x="-148.88 -127.52 -106.06 -83.59 -58.9" dy="0 0 0 0 -5" font-family="'Liberation Sans', Arial, sans-serif" font-size="40.0" fill="#000" stroke="#000" stroke-width="0.45"><tspan font-size="41.7" font-family="'Liberation Mono', monospace">G</tspan>1<tspan font-size="38" font-family="'Liberation Mono', monospace">/</tspan>2″</text>
<text aria-label="150±20" transform="translate(194.10,0) rotate(-90) scale(0.76,1)" x="-1218.18 -1200.29 -1177.88 -1155.04 -1113.85 -1091.69" font-family="'Liberation Sans', Arial, sans-serif" font-size="40.0" fill="#000" stroke="#000" stroke-width="0.45">150<tspan font-size="48" font-family="'DejaVu Sans Light', 'DejaVu Sans', sans-serif" font-weight="200">±</tspan>20</text>
<text aria-label="360°" transform="translate(0,292.60) scale(0.76,1)" x="580.71 601.52 622.38 647.04" dy="0 0 0 -4.5" font-family="'Liberation Sans', Arial, sans-serif" font-size="40.0" fill="#000" stroke="#000" stroke-width="0.45">360<tspan font-size="32">°</tspan></text>
<text aria-label="9°" transform="translate(0,550.10) scale(0.86,1) skewX(-8)" x="1048.25 1074.57" dy="0 -0.8" font-family="'Liberation Sans', Arial, sans-serif" font-size="37.5" font-style="italic" fill="#000" stroke="#000" stroke-width="0.6">9<tspan font-size="30">°</tspan></text>
</g>
</svg>
</body>
</html>
